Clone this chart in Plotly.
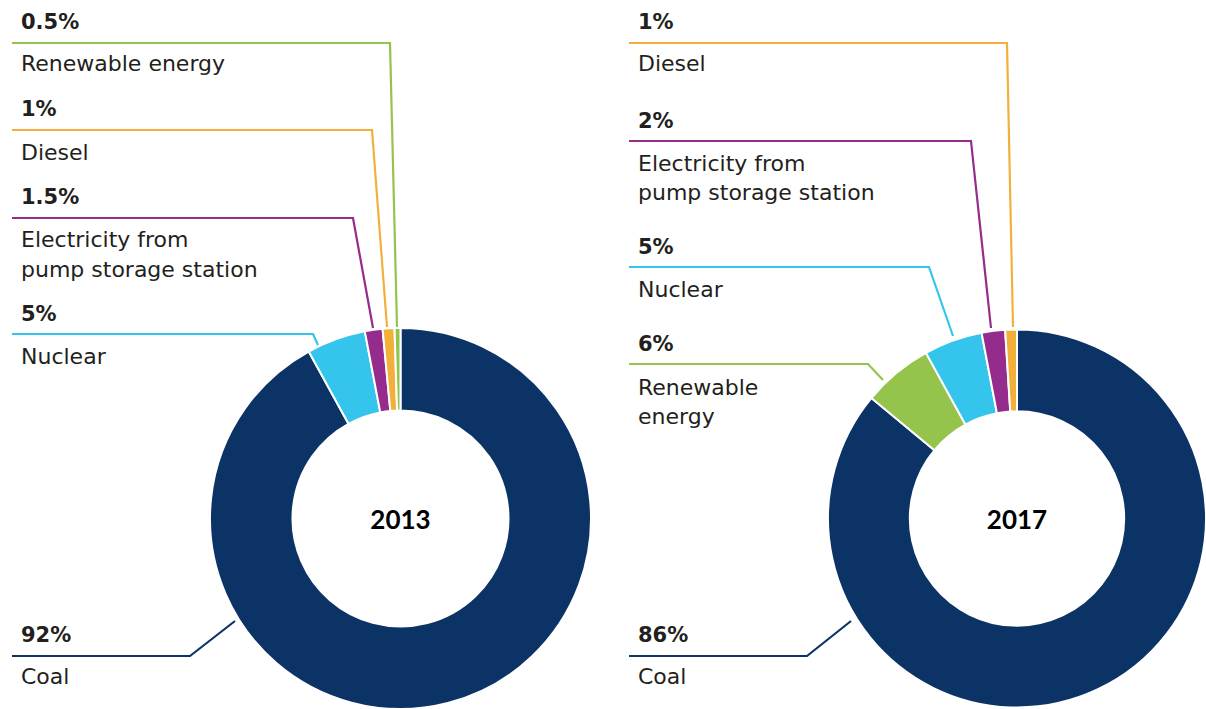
import plotly.graph_objects as go

# ---------------- data ----------------
sources_2013 = ["Coal", "Nuclear", "Electricity from pump storage station", "Diesel", "Renewable energy"]
shares_2013 = [92, 5, 1.5, 1, 0.5]

sources_2017 = ["Coal", "Renewable energy", "Nuclear", "Electricity from pump storage station", "Diesel"]
shares_2017 = [86, 6, 5, 2, 1]

years = ["2013", "2017"]

# ---------------- styling ----------------
W, H = 1206, 709
colors = {
    "Coal": "#0c3366",
    "Nuclear": "#35c5ec",
    "Electricity from pump storage station": "#962b8e",
    "Diesel": "#f2b03b",
    "Renewable energy": "#94c44b",
}
FONT = "DejaVu Sans"
TXT = "#231f20"


def px(x):
    return x / W


def py(y):
    return 1 - y / H


fig = go.Figure()

pie_domains = [
    dict(x=[px(209), px(592)], y=[0, py(328)]),
    dict(x=[px(828), 1.0], y=[0, py(328)]),
]

for year, src, val, dom in zip(years, [sources_2013, sources_2017], [shares_2013, shares_2017], pie_domains):
    fig.add_trace(go.Pie(
        labels=src,
        values=val,
        hole=0.567,
        sort=False,
        direction="clockwise",
        rotation=0,
        domain=dom,
        marker=dict(colors=[colors[s] for s in src], line=dict(color="white", width=2)),
        textinfo="none",
        hoverinfo="label+percent",
        showlegend=False,
        title=dict(text="<b>" + year + "</b>", position="middle center",
                   font=dict(family="Lato", size=26, color="#000000")),
    ))

# label layout per panel: (category, display lines, pct y, first text line y, leader path points)
label_layout = {
    "2013": dict(x_text=19, entries=[
        ("Renewable energy", ["Renewable energy"], 22.5, 64, [(12, 43), (390, 43), (397, 327)]),
        ("Diesel", ["Diesel"], 109, 152.5, [(12, 130), (372, 130), (387, 327)]),
        ("Electricity from pump storage station", ["Electricity from", "pump storage station"], 197, 240,
         [(12, 218), (353, 218), (373, 328)]),
        ("Nuclear", ["Nuclear"], 314, 356, [(12, 334), (313, 334), (318, 345)]),
        ("Coal", ["Coal"], 635, 676.5, [(12, 656), (190, 656), (235, 621)]),
    ]),
    "2017": dict(x_text=636, entries=[
        ("Diesel", ["Diesel"], 22.5, 63.5, [(629, 43), (1007, 43), (1013, 327)]),
        ("Electricity from pump storage station", ["Electricity from", "pump storage station"], 120.5, 163.3,
         [(629, 141), (971, 141), (991, 328)]),
        ("Nuclear", ["Nuclear"], 247, 289.5, [(629, 267), (929, 267), (953, 336)]),
        ("Renewable energy", ["Renewable", "energy"], 344, 387, [(629, 364), (868, 364), (883, 380)]),
        ("Coal", ["Coal"], 635, 676.5, [(629, 656), (807, 656), (851, 621)]),
    ]),
}

shares_by_year = {
    "2013": dict(zip(sources_2013, shares_2013)),
    "2017": dict(zip(sources_2017, shares_2017)),
}

LINE_GAP = 29.5
for year in years:
    lay = label_layout[year]
    for cat, lines, y_pct, y_txt, pts in lay["entries"]:
        val = shares_by_year[year][cat]
        fig.add_annotation(
            x=px(lay["x_text"]), y=py(y_pct), xref="paper", yref="paper",
            xanchor="left", yanchor="middle", showarrow=False,
            text="<b>" + f"{val:g}%" + "</b>",
            font=dict(family=FONT, size=21, color=TXT),
        )
        for i, ln in enumerate(lines):
            fig.add_annotation(
                x=px(lay["x_text"]), y=py(y_txt + i * LINE_GAP), xref="paper", yref="paper",
                xanchor="left", yanchor="middle", showarrow=False,
                text=ln,
                font=dict(family=FONT, size=22, color=TXT),
            )
        path = "M " + " L ".join(f"{px(x):.5f},{py(y):.5f}" for x, y in pts)
        fig.add_shape(type="path", path=path, xref="paper", yref="paper",
                      line=dict(color=colors[cat], width=2.2))

fig.update_layout(
    width=W, height=H,
    margin=dict(l=0, r=0, t=0, b=0),
    paper_bgcolor="white",
    plot_bgcolor="white",
    showlegend=False,
)

fig.write_html("out.html")
